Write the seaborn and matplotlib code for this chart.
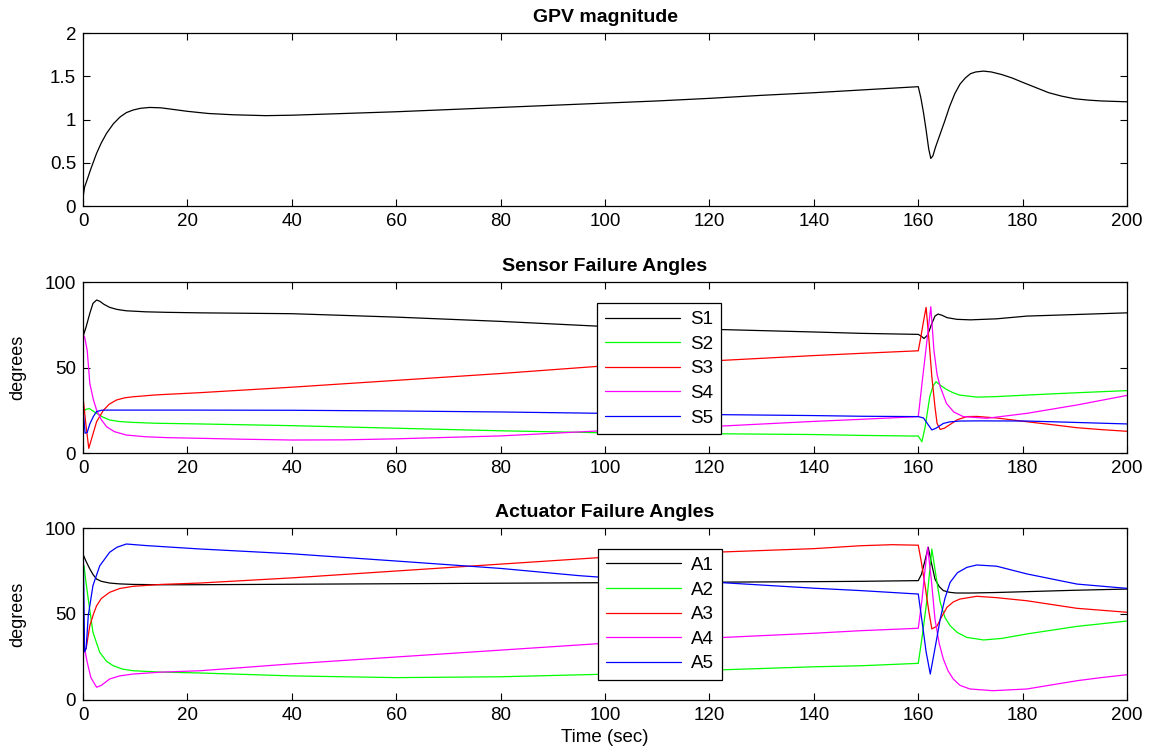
import numpy as np
import pandas as pd
import matplotlib
matplotlib.use("Agg")
import matplotlib.pyplot as plt
import seaborn as sns

# ---------------- data ----------------
gpv_t = [0, 0.05, 0.3, 0.6, 1.5, 2.6, 3.5, 4.5, 5.8, 7.1, 8.3, 9.6, 11, 12.8, 15, 17.5, 20, 24, 28.8,
         35, 40, 50, 60, 70, 80, 90, 100, 110, 120, 130, 140, 150, 160, 160.5, 161, 161.5, 162,
         162.4, 162.8, 163.3, 164, 165, 166, 167, 168, 169, 170, 171, 172.5, 174, 176, 178, 180,
         182.5, 185, 187.5, 190, 192.5, 195, 197.5, 200]
gpv_v = [0, 0.12, 0.22, 0.27, 0.43, 0.61, 0.73, 0.84, 0.95, 1.03, 1.08, 1.11, 1.13, 1.14, 1.135,
         1.115, 1.095, 1.07, 1.055, 1.045, 1.05, 1.07, 1.09, 1.115, 1.14, 1.165, 1.19, 1.215, 1.245,
         1.28, 1.31, 1.345, 1.38, 1.25, 1.08, 0.88, 0.66, 0.55, 0.58, 0.68, 0.8, 0.97, 1.15, 1.3,
         1.41, 1.48, 1.53, 1.55, 1.56, 1.55, 1.52, 1.48, 1.43, 1.37, 1.31, 1.27, 1.24, 1.225, 1.215,
         1.21, 1.205]

sensor_labels = ["S1", "S2", "S3", "S4", "S5"]
s1_t = [0, 0.1, 0.6, 1.3, 1.9, 2.6, 3.2, 4, 5.1, 6.5, 8.3, 12, 16, 22.4, 40, 60, 80, 100, 120, 140,
        149, 160, 160.5, 161.1, 161.8, 162.5, 163.2, 163.8, 164.6, 165.5, 167.4, 170, 175, 180.8,
        190, 200]
s1_v = [85.5, 69, 73.9, 81.7, 87.5, 89.5, 88.8, 87, 85.2, 84, 83.2, 82.6, 82.3, 82, 81.5, 79.5, 77,
        74, 72.4, 70.8, 70, 69.4, 68.5, 67, 69, 75, 80.1, 81.3, 80.5, 79.2, 78.2, 77.9, 78.5, 80.1,
        81, 82]
s2_t = [0, 0.1, 0.5, 1.2, 2.6, 3.8, 5.1, 7, 9.6, 14, 22.4, 40, 60, 80, 100, 120, 140, 149, 160,
        160.7, 161.3, 162.2, 162.8, 163.4, 164.3, 165.4, 166.5, 167.9, 171.2, 175, 180.8, 190, 200]
s2_v = [22, 24, 25.5, 26, 23.2, 21, 19.3, 18.4, 17.9, 17.4, 17, 16, 14.5, 13, 11.8, 11.3, 10.8,
        10.3, 9.9, 6.6, 15, 32.9, 39, 41.7, 39.5, 37.2, 35.5, 33.9, 32.7, 33, 33.9, 35.2, 36.5]
s3_t = [0, 0.1, 0.5, 1.1, 1.8, 2.6, 3.9, 5, 6.4, 8, 9.6, 14, 22.4, 40, 60, 80, 100, 120, 140, 149,
        160, 160.5, 161, 161.5, 162, 162.6, 163.2, 163.6, 164.2, 165, 166, 167.5, 169.3, 171.2,
        175, 180.8, 185, 190.4, 195, 200]
s3_v = [30, 30, 18, 2.7, 10, 18.3, 25, 28.5, 31, 32.3, 32.9, 34, 35.3, 38.5, 42.5, 46.5, 51, 53.8,
        57, 58.3, 59.8, 68, 77, 85.2, 68, 44.6, 27, 17.3, 13.8, 14.5, 16.5, 19.5, 21.3, 21.4, 20.5,
        18.3, 16.8, 14.8, 13.7, 12.7]
s4_t = [0, 0.3, 0.8, 1.3, 2, 2.6, 3.5, 4.5, 6, 8.3, 12, 16, 22.4, 30, 40, 50, 60, 80, 100, 120,
        140, 149, 160, 160.8, 161.6, 162.4, 163, 163.6, 164.2, 165.4, 166.8, 168.6, 173.1, 180.8,
        190.4, 200]
s4_v = [69, 68, 60, 40.7, 31, 25.1, 19.5, 15.4, 12.5, 10.5, 9.5, 9, 8.6, 8.1, 7.6, 7.7, 8.3, 10,
        13.1, 15.4, 18.5, 19.7, 21.3, 43, 64, 85.6, 60, 46, 38.8, 29, 24, 21.3, 20.3, 23.2, 28.1,
        33.7]
s5_t = [0, 0.02, 0.4, 0.8, 1.3, 2, 2.6, 3.5, 4.5, 10, 20, 40, 60, 80, 100, 120, 140, 149, 160, 161,
        161.8, 162.6, 163.4, 164.8, 166, 167.9, 172, 180.8, 190, 200]
s5_v = [0, 25, 11.6, 12, 17, 21.5, 24.2, 25, 25.1, 25.1, 25.1, 25, 24.6, 24, 23.2, 22.5, 21.9,
        21.5, 21.3, 20.5, 17, 13.5, 14.5, 17.3, 18.2, 18.7, 18.8, 18.7, 17.9, 17]

actuator_labels = ["A1", "A2", "A3", "A4", "A5"]
a1_t = [0, 0.1, 0.6, 1.3, 1.9, 2.6, 3.5, 5.1, 7, 9.6, 15, 20, 40, 60, 80, 100, 120, 140, 149, 160,
        160.6, 161.2, 161.9, 162.5, 163.2, 164, 164.8, 166, 167.3, 170, 175, 180.8, 190, 200]
a1_v = [84.5, 84, 80.5, 76.2, 73, 70.3, 69, 68, 67.5, 67.2, 67, 67, 67.3, 67.6, 67.9, 68.2, 68.5,
        68.8, 69, 69.4, 73, 80, 88.8, 80, 70.3, 66, 63.6, 62.6, 62.2, 62.2, 62.5, 63, 63.8, 64.5]
a2_t = [0, 0.2, 0.5, 1, 1.9, 3.2, 4.5, 5.8, 7.5, 9.6, 15, 22.4, 40, 60, 80, 100, 120, 140, 149,
        160, 160.8, 161.6, 162.6, 163.4, 164.2, 165.1, 166.1, 167.5, 169.3, 172.5, 176, 180.8,
        190.4, 200]
a2_v = [78, 78, 70, 58.7, 39.4, 27.7, 22.5, 19.9, 18, 17, 16.2, 15.7, 14, 13, 13.5, 15, 17.3,
        19.3, 19.9, 21.3, 38, 56.8, 87.8, 72, 56.8, 48, 43.2, 39.2, 36.4, 34.9, 35.8, 38.4, 42.8,
        45.9]
a3_t = [0, 0.3, 0.6, 1.3, 2, 2.6, 3.5, 5.1, 7, 9.6, 15, 22.4, 40, 60, 80, 100, 120, 140, 149, 155,
        160, 160.6, 161.3, 162, 162.6, 163.6, 164.5, 165.5, 166.7, 168, 171.2, 175, 180.8, 190.4,
        200]
a3_v = [28.7, 28.7, 30, 43.2, 50, 54.8, 59, 62.6, 64.8, 66.1, 67.2, 68, 71, 75, 79, 83, 85.8, 88,
        89.7, 90.3, 90, 80, 66.5, 52, 41.3, 43, 48.5, 53.9, 57, 58.7, 60.3, 59.5, 57.7, 53.3, 51]
a4_t = [0, 0.1, 0.3, 0.8, 1.5, 2.6, 3.5, 5.1, 7, 9.6, 15, 22.4, 40, 60, 80, 100, 120, 140, 149,
        160, 160.7, 161.3, 161.8, 162.5, 163.2, 164, 164.8, 165.7, 166.7, 168, 169.9, 174.3,
        180.8, 185, 190.4, 195, 200]
a4_v = [0, 30, 29.7, 22, 13, 7.4, 8.5, 12.2, 14, 15.1, 16.2, 17, 21, 25, 29, 33, 36, 38.8, 40.3,
        41.7, 58, 76, 88.8, 70, 47, 33, 23.8, 17, 12.2, 8.5, 6.4, 5.4, 6.4, 8.5, 11.2, 13, 14.7]
a5_t = [0, 0.05, 0.3, 0.6, 1, 1.9, 3.2, 5.1, 6.5, 8.3, 12, 22.4, 40, 60, 80, 95, 100, 122, 140,
        149, 160, 160.8, 161.5, 162.3, 163.2, 164.2, 165.1, 166.1, 167.5, 169.3, 171.2, 175,
        180.8, 190.4, 200]
a5_v = [0, 87, 28, 30, 49, 66.5, 78, 85.9, 88.8, 90.7, 89.8, 87.8, 85, 80.8, 76.5, 72.3, 71.2,
        68.3, 65, 63.6, 61.6, 44, 28, 15.1, 30, 47, 59, 68.4, 74, 77.1, 78.5, 77.8, 73.3, 67.4,
        64.9]

series_colors = ["#000000", "#00ff00", "#ff0000", "#ff00ff", "#0000ff"]
x_ticks = list(range(0, 201, 20))
gpv_ticks = [0, 0.5, 1, 1.5, 2]
gpv_ticklabels = ["0", "0.5", "1", "1.5", "2"]
deg_ticks = [0, 50, 100]

# ---------------- style ----------------
sns.set_style("ticks")
plt.rcParams['font.family'] = ['Liberation Sans', 'DejaVu Sans']
plt.rcParams['text.color'] = 'black'
plt.rcParams['axes.labelcolor'] = 'black'
plt.rcParams['xtick.color'] = 'black'
plt.rcParams['ytick.color'] = 'black'

fig = plt.figure(figsize=(11.58, 7.53), dpi=100)
ax1 = fig.add_axes([0.0717, 0.7264, 0.9016, 0.2297])
ax2 = fig.add_axes([0.0717, 0.3984, 0.9016, 0.2270])
ax3 = fig.add_axes([0.0717, 0.0704, 0.9016, 0.2284])

LW = 0.9


def draw(ax, t, v, color, label=None):
    df = pd.DataFrame({"t": t, "v": v})
    sns.lineplot(data=df, x="t", y="v", ax=ax, color=color, lw=LW,
                 estimator=None, sort=False, label=label)


draw(ax1, gpv_t, gpv_v, "#000000")

sensors = [(s1_t, s1_v), (s2_t, s2_v), (s3_t, s3_v), (s4_t, s4_v), (s5_t, s5_v)]
for (t, v), c, lab in zip(sensors, series_colors, sensor_labels):
    draw(ax2, t, v, c, lab)

acts = [(a1_t, a1_v), (a2_t, a2_v), (a3_t, a3_v), (a4_t, a4_v), (a5_t, a5_v)]
for (t, v), c, lab in zip(acts, series_colors, actuator_labels):
    draw(ax3, t, v, c, lab)

titles = ["GPV magnitude", "Sensor Failure Angles", "Actuator Failure Angles"]
for ax, title in zip([ax1, ax2, ax3], titles):
    ax.set_xlim(0, 200)
    ax.set_xticks(x_ticks)
    ax.set_xticklabels([str(x) for x in x_ticks])
    ax.tick_params(direction="in", top=True, right=True, length=5, width=0.8,
                   labelsize=13.5, pad=5, colors="black")
    for sp in ax.spines.values():
        sp.set_visible(True)
        sp.set_color("black")
        sp.set_linewidth(0.9)
    ax.set_title(title, fontsize=14, fontweight="bold", pad=8, color="black")
    ax.set_xlabel("")
    ax.set_ylabel("")

ax1.set_ylim(0, 2)
ax1.set_yticks(gpv_ticks)
ax1.set_yticklabels(gpv_ticklabels)

for ax in (ax2, ax3):
    ax.set_ylim(0, 100)
    ax.set_yticks(deg_ticks)
    ax.set_yticklabels([str(d) for d in deg_ticks])
    ax.set_ylabel("degrees", fontsize=13, labelpad=13, color="black")

ax3.set_xlabel("Time (sec)", fontsize=13.5, labelpad=4, color="black")

for ax, anchor in ((ax2, (0.4923, 0.877)), (ax3, (0.4933, 0.878))):
    leg = ax.legend(loc="upper left", bbox_to_anchor=anchor, borderaxespad=0,
                    fontsize=13.5, handlelength=4.0, handletextpad=0.55,
                    labelspacing=0.40, borderpad=0.42, frameon=True, fancybox=False,
                    framealpha=1, edgecolor="black")
    leg.get_frame().set_linewidth(0.9)
    for line in leg.get_lines():
        line.set_linewidth(LW)
    for txt in leg.get_texts():
        txt.set_color("black")

fig.savefig("out.png", dpi=100)
